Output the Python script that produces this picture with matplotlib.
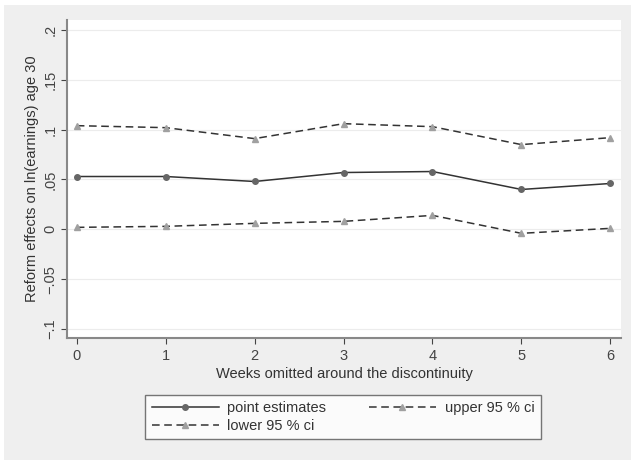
import numpy as np
import matplotlib.pyplot as plt
from matplotlib.patches import Rectangle

# data
weeks = [0, 1, 2, 3, 4, 5, 6]
point_est = [0.053, 0.053, 0.048, 0.057, 0.058, 0.040, 0.046]
upper_ci = [0.104, 0.102, 0.091, 0.106, 0.103, 0.085, 0.092]
lower_ci = [0.002, 0.003, 0.006, 0.008, 0.014, -0.004, 0.001]
yticks = [-0.1, -0.05, 0, 0.05, 0.1, 0.15, 0.2]
ytick_labels = ['\u2212.1', '\u2212.05', '0', '.05', '.1', '.15', '.2']

plt.rcParams['font.family'] = ['Liberation Sans', 'DejaVu Sans']
fs = 10.5

fig = plt.figure(figsize=(6.31, 4.61), dpi=100)
fig.patch.set_facecolor('white')
fig.patches.append(Rectangle((4/631, 1/461), 627/631, 455/461, transform=fig.transFigure,
                             facecolor='#efefef', edgecolor='none', zorder=-10))

ax = fig.add_axes([67/631, 1-338/461, 554/631, 318/461])
ax.set_facecolor('white')

for y in yticks:
    ax.axhline(y, color='#ececec', lw=0.8, zorder=0)

ax.plot(weeks, point_est, color='#333333', lw=1.1, marker='o', ms=4,
        mfc='#666666', mec='#666666', label='point estimates')
ax.plot(weeks, upper_ci, color='#333333', lw=1.1, ls=(0, (5, 3)), marker='^', ms=4.5,
        mfc='#a0a0a0', mec='#a0a0a0', label='upper 95 % ci')
ax.plot(weeks, lower_ci, color='#333333', lw=1.1, ls=(0, (5, 3)), marker='^', ms=4.5,
        mfc='#a0a0a0', mec='#a0a0a0', label='lower 95 % ci')

ax.set_xlim(-0.11, 6.12)
ax.set_ylim(-0.109, 0.21)
ax.set_xticks(weeks)
ax.set_yticks(yticks)
ax.set_yticklabels(ytick_labels, rotation=90, va='center')
ax.tick_params(colors='#444444', labelsize=fs, length=4, width=0.8)
ax.tick_params(axis='x', pad=4)
ax.tick_params(axis='y', pad=3)

for s in ['top', 'right']:
    ax.spines[s].set_visible(False)
for s in ['left', 'bottom']:
    ax.spines[s].set_color('#888888')
    ax.spines[s].set_linewidth(1.5)

ax.set_xlabel('Weeks omitted around the discontinuity', fontsize=fs, color='#333333', labelpad=3)
ax.set_ylabel('Reform effects on ln(earnings) age 30', fontsize=fs, color='#333333', labelpad=3)

handles, labels = ax.get_legend_handles_labels()
order = [0, 2, 1]  # column-major fill -> row 1: point, upper; row 2: lower
leg = fig.legend([handles[i] for i in order], [labels[i] for i in order],
                 ncol=2, loc='center', bbox_to_anchor=(343/631, 1-417/461),
                 fontsize=fs, frameon=True, fancybox=False, edgecolor='#555555',
                 handlelength=4.6, columnspacing=2.9, borderpad=0.45, labelspacing=0.25,
                 handletextpad=0.6)
leg.get_frame().set_linewidth(1.0)
for t in leg.get_texts():
    t.set_color('#333333')

fig.savefig('out.png', dpi=100)
